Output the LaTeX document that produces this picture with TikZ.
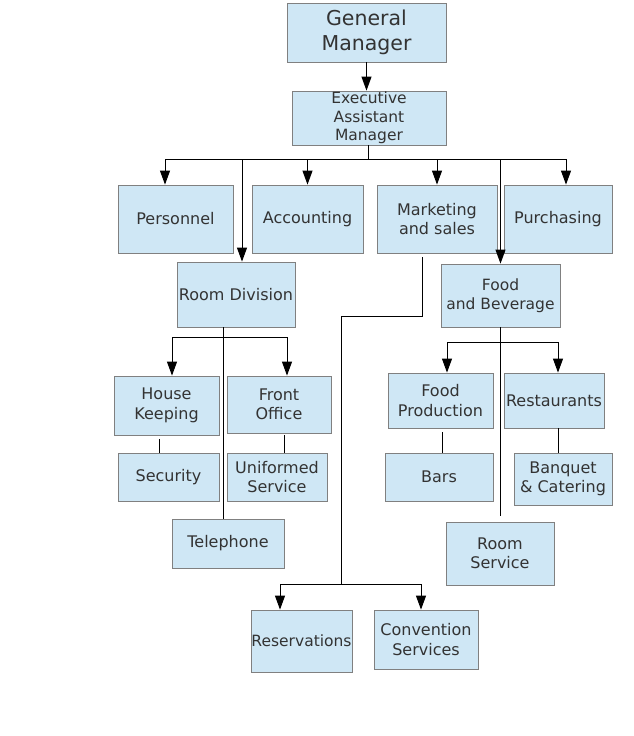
\documentclass[tikz,border=0pt]{standalone}
\usepackage{fontspec}
\setmainfont{DejaVu Sans}
\usetikzlibrary{arrows.meta}
\definecolor{boxfill}{HTML}{CFE7F5}
\definecolor{boxline}{HTML}{808080}
\definecolor{boxtext}{HTML}{333333}

\begin{document}
\begin{tikzpicture}[x=1pt,y=-1pt,
                     post/.style={
                                % The shape:
                                rectangle,inner sep=0pt,align=center,
                                % The rest
                                line width=0.8pt,draw=boxline,fill=boxfill,
                                text=boxtext,font=\fontsize{16}{19.5}\selectfont},
                     wire/.style={line width=1pt},
                     feed/.style={wire,-{Triangle[length=14pt,width=10pt]}}]
 \useasboundingbox (0,0) rectangle (633,736);
 \node (gm)   [post,minimum width=159pt,minimum height=59pt,font=\fontsize{20.5}{25}\selectfont] at (366.5,32.5) {General\\Manager};
 \node (eam)  [post,minimum width=154pt,minimum height=54pt,font=\fontsize{15.5}{18.5}\selectfont] at (369,118) {Executive\\Assistant\\Manager};
 \node (pers) [post,minimum width=115pt,minimum height=68pt] at (175.5,219) {Personnel};
 \node (acc)  [post,minimum width=111pt,minimum height=68pt] at (307.5,219) {Accounting};
 \node (mkt)  [post,minimum width=120pt,minimum height=68pt] at (437,219)   {Marketing\\and sales};
 \node (pur)  [post,minimum width=108pt,minimum height=68pt] at (558,219)   {Purchasing};
 \node (rd)   [post,minimum width=118pt,minimum height=65pt] at (236,294.5) {Room Division};
 \node (fb)   [post,minimum width=119pt,minimum height=63pt,font=\fontsize{15.5}{19}\selectfont] at (500.5,295.5) {Food\\and Beverage};
 \node (hk)   [post,minimum width=105pt,minimum height=59pt] at (166.5,405.5) {House\\Keeping};
 \node (fo)   [post,minimum width=104pt,minimum height=57pt] at (279,404.5) {Front\\Office};
 \node (sec)  [post,minimum width=101pt,minimum height=48pt] at (168.5,477) {Security};
 \node (uni)  [post,minimum width=100pt,minimum height=48pt] at (277,477)   {Uniformed\\Service};
 \node (fp)   [post,minimum width=105pt,minimum height=55pt] at (440.5,400.5) {Food\\Production};
 \node (rest) [post,minimum width=100pt,minimum height=55pt] at (554,400.5) {Restaurants};
 \node (bars) [post,minimum width=108pt,minimum height=48pt] at (439,477)   {Bars};
 \node (banq) [post,minimum width=98pt,minimum height=52pt]  at (563,479)   {Banquet\\\& Catering};
 \node (tel)  [post,minimum width=112pt,minimum height=49pt] at (228,543.5) {Telephone};
 \node (rs)   [post,minimum width=108pt,minimum height=63pt] at (500,553.5) {Room\\Service};
 \node (resv) [post,minimum width=101pt,minimum height=62pt,font=\fontsize{15.5}{19}\selectfont] at (301.5,641) {Reservations};
 \node (conv) [post,minimum width=104pt,minimum height=59pt] at (426,639.5) {Convention\\Services};
 % top level
 \draw [feed] (gm.south) -- (gm.south |- eam.north);
 \coordinate (bus) at ([xshift=-1pt,yshift=-14pt]eam.south);
 \draw [wire] ([xshift=-1pt]eam.south) -- (bus);
 \draw [feed] (bus) -| ([xshift=-10.5pt]pers.north);
 \draw [feed] (bus) -| (acc.north);
 \draw [feed] (bus) -| (mkt.north);
 \draw [feed] (bus) -| ([xshift=8pt]pur.north);
 \draw [feed] (bus) -| ([xshift=6pt]rd.north);
 \draw [feed] (bus) -| (fb.north);
 % room division
 \coordinate (rdbus) at ([xshift=-13pt,yshift=-10pt]rd.south);
 \draw [wire] ([xshift=-13pt]rd.south) -- ([xshift=-13pt]rd.south |- tel.north);
 \draw [feed] (rdbus) -| ([xshift=5.5pt]hk.north);
 \draw [feed] (rdbus) -| ([xshift=8pt]fo.north);
 \draw [wire] ([xshift=-7.5pt,yshift=-4pt]hk.south) -- ([xshift=-7.5pt]hk.south |- sec.north);
 \draw [wire] ([xshift=5pt,yshift=-2pt]fo.south) -- ([xshift=5pt]fo.south |- uni.north);
 % marketing
 \coordinate (mkbus) at ([xshift=-96pt,yshift=25pt]mkt.south |- resv.north);
 \draw [wire] ([xshift=-15pt,yshift=-4pt]mkt.south) -- ++(0,59) -| (mkbus);
 \draw [feed] (mkbus) -| ([xshift=-21.5pt]resv.north);
 \draw [feed] (mkbus) -| ([xshift=-5pt]conv.north);
 % food and beverage
 \coordinate (fbbus) at ([yshift=-15pt]fb.south);
 \draw [wire] (fb.south) -- ([yshift=6pt]fb.south |- rs.north);
 \draw [feed] (fbbus) -| ([xshift=6.5pt]fp.north);
 \draw [feed] (fbbus) -| ([xshift=4pt]rest.north);
 \draw [wire] ([xshift=1.5pt,yshift=-4pt]fp.south) -- ([xshift=1.5pt]fp.south |- bars.north);
 \draw [wire] ([xshift=4pt]rest.south) -- ([xshift=4pt]rest.south |- banq.north);
\end{tikzpicture}
\end{document}
